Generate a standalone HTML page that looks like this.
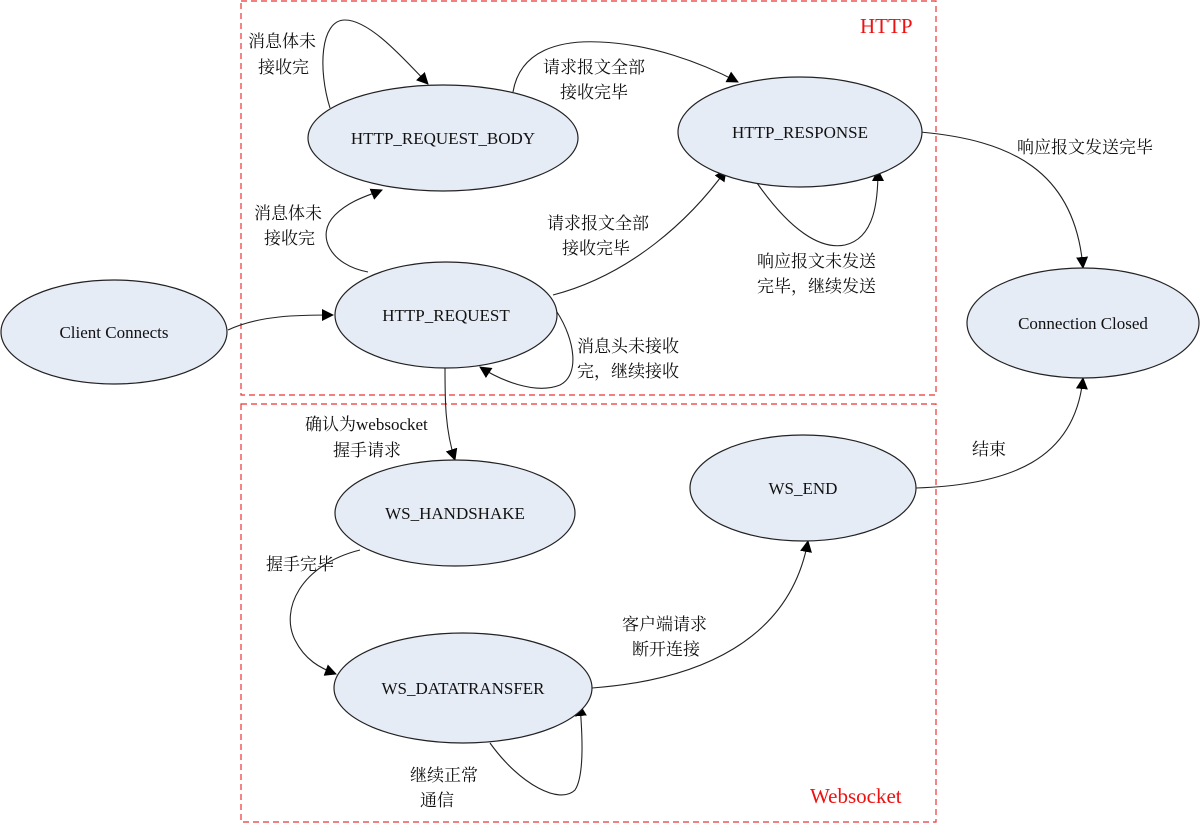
<!DOCTYPE html>
<html><head><meta charset="utf-8"><style>
html,body{margin:0;padding:0;background:#fff}
svg{display:block}
text{font-family:"Liberation Serif","Noto Serif CJK SC",serif;font-size:17px;fill:#111}
.e{fill:#e6ecf6;stroke:#222;stroke-width:1.2}
.c{fill:none;stroke:#222;stroke-width:1.1}
</style></head><body>
<svg width="1200" height="823" viewBox="0 0 1200 823">
<defs><marker id="a" markerWidth="12" markerHeight="12" refX="11" refY="6" orient="auto" markerUnits="userSpaceOnUse"><path d="M0,0 L12,6 L0,12 z" fill="#000"/></marker></defs>
<rect x="241" y="1" width="695" height="394" fill="none" stroke="#e33" stroke-dasharray="6,4" stroke-width="1.2"/>
<rect x="241" y="404" width="695" height="418" fill="none" stroke="#e33" stroke-dasharray="6,4" stroke-width="1.2"/>
<text x="860" y="33" style="fill:#e11;font-size:21px">HTTP</text>
<text x="810" y="803" style="fill:#e11;font-size:21px">Websocket</text>

<!-- connectors -->
<path class="c" marker-end="url(#a)" d="M228,330 C260,315 300,315 333,315"/>
<path class="c" marker-end="url(#a)" d="M557,312 C575,340 580,375 560,385 C535,395 500,380 480,367"/>
<path class="c" marker-end="url(#a)" d="M368,272 C330,265 315,235 335,215 C350,200 370,195 382,190"/>
<path class="c" marker-end="url(#a)" d="M330,108 C318,70 320,20 345,20 C370,20 405,60 428,84"/>
<path class="c" marker-end="url(#a)" d="M513,92 C520,50 560,40 600,42 C650,44 700,62 738,82"/>
<path class="c" marker-end="url(#a)" d="M553,295 C630,275 690,220 726,170"/>
<path class="c" marker-end="url(#a)" d="M757,183 C790,230 820,250 845,245 C875,238 878,200 878,170"/>
<path class="c" marker-end="url(#a)" d="M920,132 C1010,140 1075,170 1083,268"/>
<path class="c" marker-end="url(#a)" d="M445,368 C445,400 445,430 455,460"/>
<path class="c" marker-end="url(#a)" d="M360,550 C300,565 280,610 295,640 C305,660 320,668 336,674"/>
<path class="c" marker-end="url(#a)" d="M490,743 C520,785 560,805 575,790 C585,775 582,730 580,705"/>
<path class="c" marker-end="url(#a)" d="M592,688 C700,680 790,640 808,541"/>
<path class="c" marker-end="url(#a)" d="M916,488 C1010,485 1075,460 1083,378"/>

<!-- nodes -->
<ellipse class="e" cx="114" cy="332" rx="113" ry="52"/>
<ellipse class="e" cx="443" cy="138" rx="135" ry="53"/>
<ellipse class="e" cx="800" cy="132" rx="122" ry="55"/>
<ellipse class="e" cx="446" cy="315" rx="111" ry="53"/>
<ellipse class="e" cx="1083" cy="323" rx="116" ry="55"/>
<ellipse class="e" cx="455" cy="513" rx="120" ry="53"/>
<ellipse class="e" cx="803" cy="488" rx="113" ry="53"/>
<ellipse class="e" cx="463" cy="688" rx="129" ry="55"/>

<g text-anchor="middle">
<text x="114" y="338">Client Connects</text>
<text x="443" y="144">HTTP_REQUEST_BODY</text>
<text x="800" y="138">HTTP_RESPONSE</text>
<text x="446" y="321">HTTP_REQUEST</text>
<text x="1083" y="329">Connection Closed</text>
<text x="455" y="519">WS_HANDSHAKE</text>
<text x="803" y="494">WS_END</text>
<text x="463" y="694">WS_DATATRANSFER</text>
</g>

<!-- labels -->
<text x="248" y="47">消息体未</text><text x="258" y="73">接收完</text>
<text x="543" y="73">请求报文全部</text><text x="560" y="98">接收完毕</text>
<text x="1017" y="153">响应报文发送完毕</text>
<text x="254" y="219">消息体未</text><text x="264" y="244">接收完</text>
<text x="547" y="229">请求报文全部</text><text x="562" y="254">接收完毕</text>
<text x="757" y="267">响应报文未发送</text><text x="757" y="292">完毕，继续发送</text>
<text x="577" y="352">消息头未接收</text><text x="577" y="377">完，继续接收</text>
<text x="305" y="430">确认为websocket</text><text x="333" y="456">握手请求</text>
<text x="972" y="455">结束</text>
<text x="266" y="570">握手完毕</text>
<text x="622" y="630">客户端请求</text><text x="632" y="655">断开连接</text>
<text x="410" y="781">继续正常</text><text x="420" y="806">通信</text>
</svg>
</body></html>
